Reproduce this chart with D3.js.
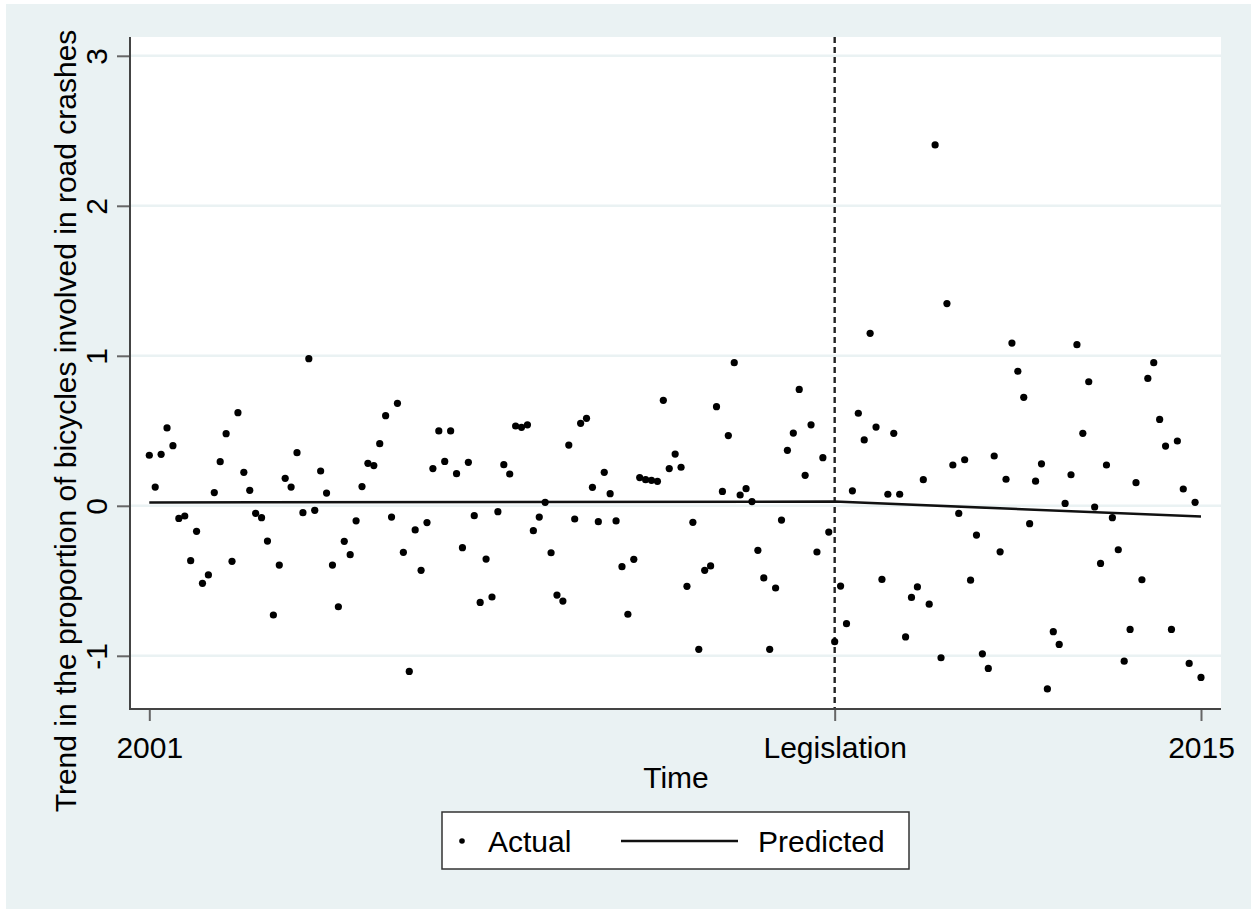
<!DOCTYPE html>
<html>
<head>
<meta charset="utf-8">
<script src="https://cdn.jsdelivr.net/npm/d3@7"></script>
<style>
  html, body { margin: 0; padding: 0; background: #ffffff; }
  svg text { font-family: "Liberation Sans", Arial, sans-serif; fill: #000; }
</style>
</head>
<body>
<svg id="chart" width="1251" height="909"></svg>
<script>
// ---- Data ----
// Monthly observations, index 0 = first month of 2001
const actualValues = [
  0.337, 0.125, 0.343, 0.519, 0.401, -0.084, -0.068, -0.366, -0.170, -0.517,
  -0.461, 0.088, 0.294, 0.481, -0.370, 0.621, 0.223, 0.103, -0.050, -0.079,
  -0.235, -0.728, -0.395, 0.183, 0.125, 0.354, -0.046, 0.981, -0.030, 0.232,
  0.085, -0.395, -0.673, -0.237, -0.326, -0.100, 0.128, 0.283, 0.268, 0.414,
  0.601, -0.075, 0.683, -0.310, -1.104, -0.161, -0.430, -0.112, 0.248, 0.499,
  0.296, 0.499, 0.214, -0.279, 0.290, -0.066, -0.644, -0.355, -0.608, -0.039,
  0.274, 0.212, 0.532, 0.523, 0.540, -0.166, -0.075, 0.023, -0.313, -0.595,
  -0.635, 0.405, -0.088, 0.550, 0.583, 0.123, -0.106, 0.223, 0.081, -0.101,
  -0.406, -0.723, -0.357, 0.188, 0.174, 0.170, 0.163, 0.703, 0.248, 0.345,
  0.257, -0.537, -0.110, -0.957, -0.430, -0.401, 0.661, 0.096, 0.468, 0.954,
  0.072, 0.114, 0.028, -0.297, -0.481, -0.957, -0.548, -0.095, 0.370, 0.485,
  0.776, 0.203, 0.540, -0.308, 0.321, -0.175, -0.906, -0.535, -0.786, 0.100,
  0.617, 0.439, 1.150, 0.525, -0.491, 0.077, 0.483, 0.077, -0.874, -0.611,
  -0.541, 0.174, -0.656, 2.406, -1.013, 1.348, 0.272, -0.051, 0.307, -0.496,
  -0.195, -0.987, -1.084, 0.332, -0.307, 0.177, 1.085, 0.897, 0.723, -0.119,
  0.164, 0.280, -1.221, -0.839, -0.924, 0.016, 0.207, 1.074, 0.483, 0.827,
  -0.008, -0.384, 0.272, -0.079, -0.293, -1.036, -0.824, 0.154, -0.493, 0.849,
  0.954, 0.576, 0.398, -0.824, 0.432, 0.112, -1.051, 0.023, -1.144
];
// Predicted (segmented regression) line, knots at month index
const predictedIndex = [0, 116, 178];
const predictedValues = [0.022, 0.028, -0.072];

const legislationIndex = 116;
const xTickIndex = [0, 116, 178];
const xTickLabels = ["2001", "Legislation", "2015"];
const yTicks = [-1, 0, 1, 2, 3];
const yTickLabels = ["-1", "0", "1", "2", "3"];

const yTitle = "Trend in the proportion of bicycles involved in road crashes";
const xTitle = "Time";
const legendLabels = ["Actual", "Predicted"];

// ---- Layout ----
const W = 1251, H = 909;
const plot = { left: 130, right: 1221, top: 37, bottom: 709 };

const svg = d3.select("#chart");

// outer background
svg.append("rect").attr("x", 0).attr("y", 0).attr("width", W).attr("height", H).attr("fill", "#ffffff");
svg.append("rect").attr("x", 6).attr("y", 4).attr("width", W - 6).attr("height", H - 4).attr("fill", "#EAF2F3");

// plot region
svg.append("rect")
  .attr("x", plot.left).attr("y", plot.top)
  .attr("width", plot.right - plot.left).attr("height", plot.bottom - plot.top)
  .attr("fill", "#ffffff");

const x = d3.scaleLinear().domain([0, 178]).range([149.3, 1201]);
const y = d3.scaleLinear().domain([0, 1]).range([505.8, 355.8]);

// gridlines
svg.append("g").selectAll("line").data(yTicks).join("line")
  .attr("x1", plot.left).attr("x2", plot.right)
  .attr("y1", d => y(d)).attr("y2", d => y(d))
  .attr("stroke", "#EAF2F3").attr("stroke-width", 2.5);

// legislation dashed line
svg.append("line")
  .attr("x1", x(legislationIndex)).attr("x2", x(legislationIndex))
  .attr("y1", plot.top).attr("y2", plot.bottom)
  .attr("stroke", "#222").attr("stroke-width", 2.4)
  .attr("stroke-dasharray", "6,4");

// predicted line
const predicted = predictedIndex.map((d, i) => ({ i: d, v: predictedValues[i] }));
svg.append("path")
  .datum(predicted)
  .attr("fill", "none").attr("stroke", "#111").attr("stroke-width", 2.5)
  .attr("d", d3.line().x(d => x(d.i)).y(d => y(d.v)));

// actual points
svg.append("g").selectAll("circle").data(actualValues).join("circle")
  .attr("cx", (d, i) => x(i)).attr("cy", d => y(d))
  .attr("r", 3.6).attr("fill", "#000");

// axes
const yAxis = d3.axisLeft(y).tickValues(yTicks).tickSize(13);
const gy = svg.append("g").attr("transform", `translate(${plot.left},0)`).call(yAxis);
gy.select(".domain").remove();
gy.selectAll(".tick line").attr("stroke", "#666").attr("stroke-width", 2);
gy.selectAll(".tick text").remove();
gy.selectAll(".tick").append("text")
  .attr("transform", "translate(-23,0) rotate(-90)")
  .attr("text-anchor", "middle")
  .style("font-size", "30px")
  .text((d, i) => yTickLabels[i]);

const xAxis = d3.axisBottom(x).tickValues(xTickIndex).tickSize(12)
  .tickFormat((d, i) => xTickLabels[i]);
const gx = svg.append("g").attr("transform", `translate(0,${plot.bottom})`).call(xAxis);
gx.select(".domain").remove();
gx.selectAll(".tick line").attr("stroke", "#666").attr("stroke-width", 2);
gx.selectAll(".tick text")
  .attr("y", 49).attr("dy", "0")
  .style("font-size", "30px");

// axis lines
svg.append("line").attr("x1", plot.left).attr("x2", plot.left)
  .attr("y1", plot.top).attr("y2", plot.bottom + 1)
  .attr("stroke", "#444").attr("stroke-width", 2);
svg.append("line").attr("x1", plot.left - 1).attr("x2", plot.right)
  .attr("y1", plot.bottom).attr("y2", plot.bottom)
  .attr("stroke", "#444").attr("stroke-width", 2);

// titles
svg.append("text")
  .attr("transform", "translate(76,421) rotate(-90)")
  .attr("text-anchor", "middle")
  .style("font-size", "30px")
  .text(yTitle);
svg.append("text")
  .attr("x", 676).attr("y", 788)
  .attr("text-anchor", "middle")
  .style("font-size", "30px")
  .text(xTitle);

// legend
const lg = svg.append("g");
lg.append("rect").attr("x", 442).attr("y", 812).attr("width", 467).attr("height", 57)
  .attr("fill", "#fff").attr("stroke", "#333").attr("stroke-width", 1.5);
lg.append("circle").attr("cx", 462).attr("cy", 841).attr("r", 2.8).attr("fill", "#000");
lg.append("text").attr("x", 488).attr("y", 852).style("font-size", "30px").text(legendLabels[0]);
lg.append("line").attr("x1", 621).attr("x2", 738).attr("y1", 841).attr("y2", 841)
  .attr("stroke", "#111").attr("stroke-width", 2.5);
lg.append("text").attr("x", 758).attr("y", 852).style("font-size", "30px").text(legendLabels[1]);
</script>
</body>
</html>
